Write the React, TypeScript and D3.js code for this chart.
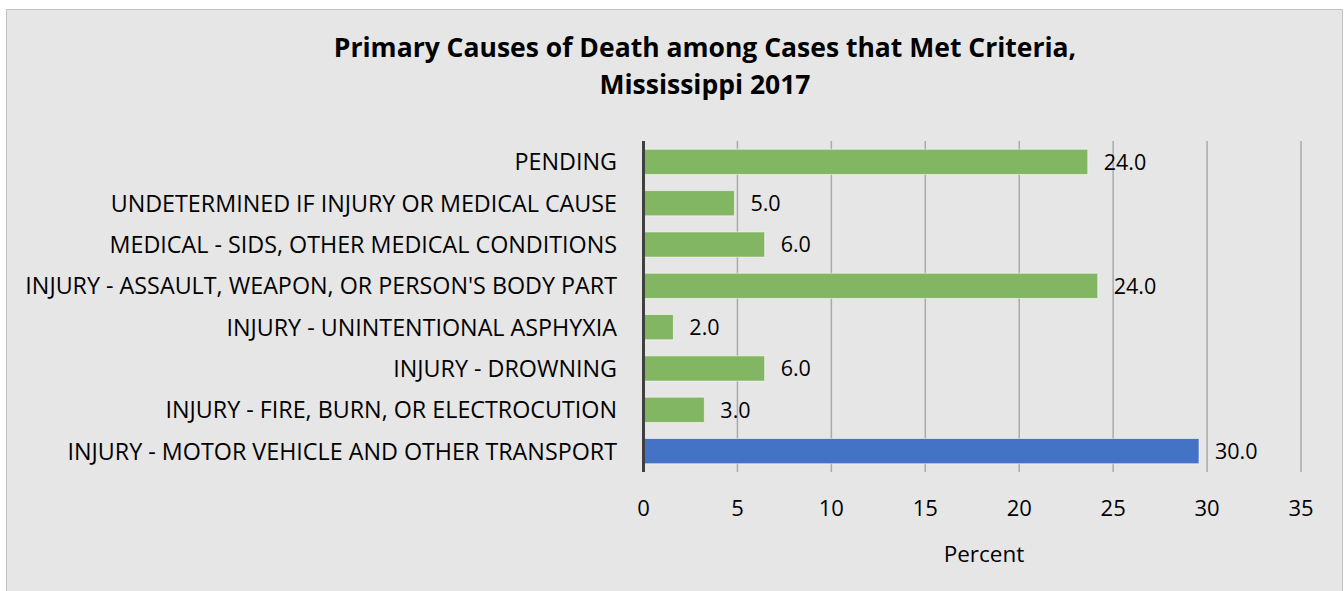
import React, { useEffect, useRef } from "react";
import * as d3 from "d3";

// chart data
const categories = [
  "PENDING",
  "UNDETERMINED IF INJURY OR MEDICAL CAUSE",
  "MEDICAL - SIDS, OTHER MEDICAL CONDITIONS",
  "INJURY - ASSAULT, WEAPON, OR PERSON'S BODY PART",
  "INJURY - UNINTENTIONAL ASPHYXIA",
  "INJURY - DROWNING",
  "INJURY - FIRE, BURN, OR ELECTROCUTION",
  "INJURY - MOTOR VEHICLE AND OTHER TRANSPORT",
];
const percents = [23.65, 4.84, 6.45, 24.18, 1.59, 6.45, 3.24, 29.57];
const valueLabels = ["24.0", "5.0", "6.0", "24.0", "2.0", "6.0", "3.0", "30.0"];
const highlighted = ["INJURY - MOTOR VEHICLE AND OTHER TRANSPORT"];
const xTicks = [0, 5, 10, 15, 20, 25, 30, 35];
const titleLines = [
  "Primary Causes of Death among Cases that Met Criteria,",
  "Mississippi 2017",
];
const axisTitle = "Percent";

const W = 1344;
const H = 591;
const FONT = "'Open Sans', 'Noto Sans', sans-serif";

export default function App() {
  const node = useRef<SVGSVGElement | null>(null);

  useEffect(() => {
    const svg = d3.select(node.current);
    svg.selectAll("*").remove();

    const x = d3.scaleLinear().domain([0, 35]).range([643.5, 1301]);
    const y = d3
      .scaleBand<string>()
      .domain(categories)
      .range([141, 472])
      .paddingInner(0.39)
      .paddingOuter(0.2);

    // chart frame
    svg
      .append("rect")
      .attr("x", 6.5)
      .attr("y", 9.5)
      .attr("width", 1336)
      .attr("height", 600)
      .attr("fill", "#e7e6e6")
      .attr("stroke", "#c3c3c3")
      .attr("stroke-width", 1);

    // title
    const title = svg
      .append("text")
      .attr("text-anchor", "middle")
      .attr("font-family", FONT)
      .attr("font-weight", "bold")
      .attr("font-size", 26.5)
      .attr("fill", "#000");
    titleLines.forEach((t, i) => {
      title
        .append("tspan")
        .attr("x", 705)
        .attr("y", 57 + i * 37)
        .text(t);
    });

    // vertical gridlines
    svg
      .append("g")
      .selectAll("line")
      .data(xTicks.filter((t) => t > 0))
      .enter()
      .append("line")
      .attr("x1", (d) => x(d))
      .attr("x2", (d) => x(d))
      .attr("y1", 141)
      .attr("y2", 472)
      .attr("stroke", "#aaaaaa")
      .attr("stroke-width", 1.5);

    // bars
    const rows = categories.map((c, i) => ({ name: c, value: percents[i], label: valueLabels[i] }));
    svg
      .append("g")
      .selectAll("rect")
      .data(rows)
      .enter()
      .append("rect")
      .attr("x", x(0))
      .attr("y", (d) => y(d.name)!)
      .attr("width", (d) => x(d.value) - x(0))
      .attr("height", y.bandwidth())
      .attr("fill", (d) => (highlighted.includes(d.name) ? "#4472c4" : "#82b662"))
      .attr("stroke", "rgba(255,255,255,0.55)")
      .attr("stroke-width", 1);

    // value labels
    svg
      .append("g")
      .selectAll("text")
      .data(rows)
      .enter()
      .append("text")
      .attr("x", (d) => x(d.value) + 16)
      .attr("y", (d) => y(d.name)! + y.bandwidth() / 2)
      .attr("dy", "0.36em")
      .attr("font-family", FONT)
      .attr("font-size", 21.5)
      .attr("fill", "#000")
      .text((d) => d.label);

    // category labels
    svg
      .append("g")
      .selectAll("text")
      .data(categories)
      .enter()
      .append("text")
      .attr("x", 617)
      .attr("y", (d) => y(d)! + y.bandwidth() / 2)
      .attr("dy", "0.36em")
      .attr("text-anchor", "end")
      .attr("font-family", FONT)
      .attr("font-size", 23.3)
      .attr("fill", "#000")
      .text((d) => d);

    // zero axis line
    svg
      .append("line")
      .attr("x1", x(0))
      .attr("x2", x(0))
      .attr("y1", 141)
      .attr("y2", 472)
      .attr("stroke", "#404040")
      .attr("stroke-width", 3);

    // x tick labels
    svg
      .append("g")
      .selectAll("text")
      .data(xTicks)
      .enter()
      .append("text")
      .attr("x", (d) => x(d))
      .attr("y", 516)
      .attr("text-anchor", "middle")
      .attr("font-family", FONT)
      .attr("font-size", 22)
      .attr("fill", "#000")
      .text((d) => String(d));

    // axis title
    svg
      .append("text")
      .attr("x", 984)
      .attr("y", 562)
      .attr("text-anchor", "middle")
      .attr("font-family", FONT)
      .attr("font-size", 22.5)
      .attr("fill", "#000")
      .text(axisTitle);
  }, []);

  return (
    <div style={{ position: "fixed", left: 0, top: 0 }}>
      <svg ref={node} width={W} height={H} style={{ display: "block" }} />
    </div>
  );
}
